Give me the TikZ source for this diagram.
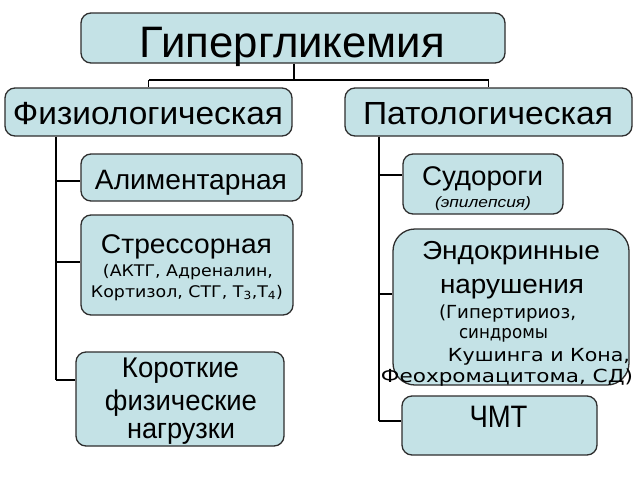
\documentclass[tikz,border=0pt]{standalone}
\usepackage{fontspec}
\usepackage{graphicx}
\setmainfont{Liberation Sans}
\newfontfamily\subfont{DejaVu Sans}
\newcommand{\fw}[2]{\resizebox{#1pt}{\height}{#2}}
\newcommand{\fs}[1]{\fontsize{#1}{#1}\selectfont}
\definecolor{boxfill}{HTML}{C4E2E6}
\definecolor{boxline}{HTML}{2E2E2E}
\begin{document}
\begin{tikzpicture}[x=1pt,y=-1pt,
  bx/.style={draw=boxline,line width=1.3pt,fill=boxfill,rounded corners=10pt,
    inner sep=0pt,anchor=center},
  tx/.style={anchor=base,inner sep=0pt},
  ln/.style={draw=black,line width=1.9pt}]
\useasboundingbox[fill=white] (0,0) rectangle (640,480);
% boxes
\node[bx,minimum width=424pt,minimum height=50pt] (top) at (293,38) {};
\node[bx,minimum width=287pt,minimum height=48pt] (fiz) at (148.5,112) {};
\node[bx,minimum width=287pt,minimum height=48pt] (pat) at (488.5,112) {};
\node[bx,minimum width=221pt,minimum height=47pt] (alim) at (191.5,177.5) {};
\node[bx,minimum width=212pt,minimum height=100pt] (stress) at (187,265) {};
\node[bx,minimum width=208pt,minimum height=94pt] (korot) at (180,399) {};
\node[bx,minimum width=160pt,minimum height=60pt] (sud) at (483,184) {};
\node[bx,minimum width=236pt,minimum height=156pt,rounded corners=22pt] (endo) at (511,307) {};
\node[bx,minimum width=195pt,minimum height=59pt] (chmt) at (499.5,425.5) {};
% texts
\node[tx] (ttop) at (292.5,57) {\fs{44}\fw{305}{Гипергликемия}};
\node[tx] (tfiz) at (148,124.5) {\fs{32}\fw{270}{Физиологическая}};
\node[tx] (tpat) at (488,124.5) {\fs{32}\fw{250}{Патологическая}};
\node[tx] (talim) at (191,189) {\fs{28}\fw{192}{Алиментарная}};
\node[tx] (ts1) at (186.5,253) {\fs{27}\fw{171}{Стрессорная}};
\node[tx] (ts2) at (188,276) {\subfont\fs{16}\fw{170}{(АКТГ, Адреналин,}};
\node[tx] (ts3) at (187,297) {\subfont\fs{16}\fw{192}{Кортизол, СТГ, Т\textsubscript{3},Т\textsubscript{4})}};
\node[tx] (tk1) at (180.5,377) {\fs{28.5}\fw{117}{Короткие}};
\node[tx] (tk2) at (181,410) {\fs{28.5}\fw{152}{физические}};
\node[tx] (tk3) at (181,438) {\fs{28.5}\fw{108}{нагрузки}};
\node[tx] (td1) at (482.5,185) {\fs{27}\fw{121}{Судороги}};
\node[tx] (td2) at (483,207) {\fs{15}\itshape\fw{96}{(эпилепсия)}};
\node[tx] (te1) at (511,259.5) {\fs{26}\fw{178}{Эндокринные}};
\node[tx] (te2) at (512,293) {\fs{26.5}\fw{144}{нарушения}};
\node[tx] (te3) at (507.5,318) {\subfont\fs{18}\fw{137}{(Гипертириоз,}};
\node[tx] (te4) at (503.5,338) {\subfont\fs{18}\fw{89}{синдромы}};
\node[tx] (te5) at (539,361) {\subfont\fs{18}\fw{182}{Кушинга и Кона,}};
\node[tx] (te6) at (507,382) {\subfont\fs{18}\fw{252}{Феохромацитома, СД)}};
\node[tx] (tc) at (498.5,427) {\fs{31}\fw{58}{ЧМТ}};
% connectors
\coordinate (tj) at (294,80);
\draw[ln] (top.south -| tj) -- (tj);
\draw[ln] (tj -| fiz.north) -- (tj -| pat.north);
\draw[ln] (tj -| fiz.north) -- (fiz.north);
\draw[ln] (tj -| pat.north) -- (pat.north);
\coordinate (fa) at (56,181);
\coordinate (fb) at (56,262);
\coordinate (fc) at (56,380);
\draw[ln] (fiz.south -| fa) -- (fc);
\draw[ln] (fa) -- (fa -| alim.west);
\draw[ln] (fb) -- (fb -| stress.west);
\draw[ln] (fc) -- (fc -| korot.west);
\coordinate (pa) at (379,175);
\coordinate (pb) at (379,294);
\coordinate (pc) at (379,421);
\draw[ln] (pat.south -| pa) -- (pc);
\draw[ln] (pa) -- (pa -| sud.west);
\draw[ln] (pb) -- (pb -| endo.west);
\draw[ln] (pc) -- (pc -| chmt.west);
\end{tikzpicture}
\end{document}
